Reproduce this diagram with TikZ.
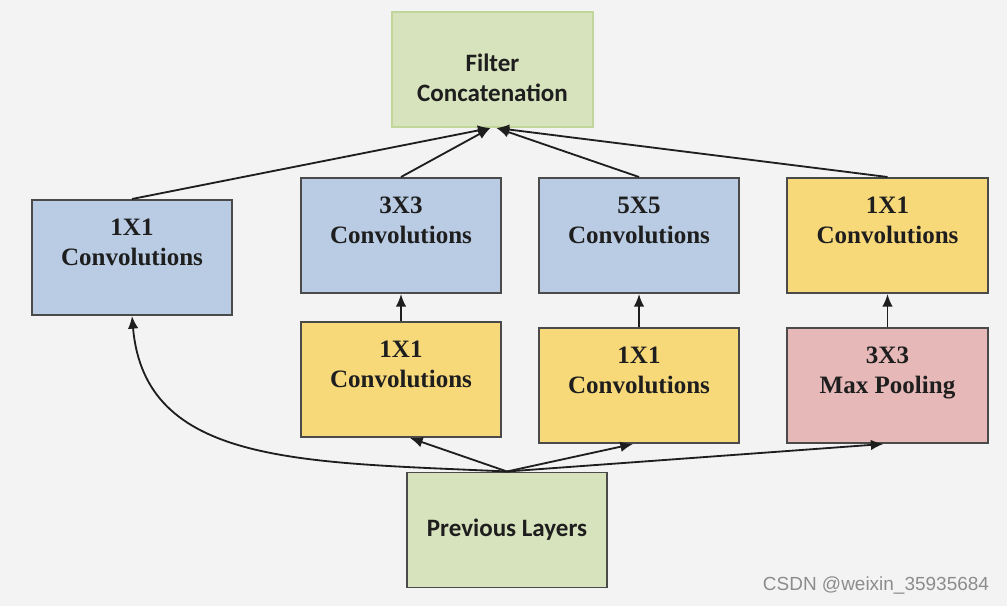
\documentclass[tikz,border=0pt]{standalone}
\usepackage{fontspec}
\setmainfont{Liberation Serif}
\newfontfamily\labelsans{Carlito}
\newfontfamily\creditsans{Liberation Sans}
\usetikzlibrary{arrows.meta,calc}
\definecolor{IncPaper}{HTML}{F3F3F3}
\definecolor{IncInk}{HTML}{1E1E1E}
\definecolor{IncEdge}{HTML}{4A4A4A}
\definecolor{IncBlue}{HTML}{B9CCE4}
\definecolor{IncYellow}{HTML}{F8D97A}
\definecolor{IncRose}{HTML}{E6B9B8}
\definecolor{IncGreen}{HTML}{D7E3BD}
\definecolor{IncGreenEdge}{HTML}{C2D69B}
\definecolor{IncMuted}{HTML}{8C8C8C}
\tikzset{
  flowarrow/.style={-{Latex[length=9pt,width=7.5pt]},line width=1.3pt,draw=IncInk},
  block/.style={draw=IncEdge,line width=1.4pt,align=center,minimum width=5cm,minimum height=2.875cm,inner sep=0pt,text=IncInk,font=\fontsize{17.8}{21.3}\selectfont\bfseries},
  convblue/.style={block,fill=IncBlue},
  convyellow/.style={block,fill=IncYellow},
  poolbox/.style={block,fill=IncRose},
  layerbox/.style={block,fill=IncGreen,font=\labelsans\fontsize{17.8}{21.3}\selectfont\bfseries},
  credit/.style={font=\creditsans\fontsize{13.5}{16}\selectfont,text=IncMuted}
}

\begin{document}
\begin{tikzpicture}[x=0.025cm,y=0.025cm]
  \fill[IncPaper] (0,0) rectangle (1007,606);

  % output and input
  \node[layerbox,draw=IncGreenEdge] (concat) at (492.5,536.5) {\rule{0pt}{24pt}Filter\\Concatenation};
  \node[layerbox] (prev) at (507,76) {Previous Layers};

  % upper row
  \node[convblue] (conv1) at (132,348.5) {1X1\\Convolutions\\\mbox{}};
  \node[convblue] (conv3) at (401,370.5) {3X3\\Convolutions\\\mbox{}};
  \node[convblue] (conv5) at (639,370.5) {5X5\\Convolutions\\\mbox{}};
  \node[convyellow] (convpool) at (887.5,370.5) {1X1\\Convolutions\\\mbox{}};

  % lower row
  \node[convyellow] (red3) at (401,226.5) {1X1\\Convolutions\\\mbox{}};
  \node[convyellow] (red5) at (639,220.5) {1X1\\Convolutions\\\mbox{}};
  \node[poolbox] (pool) at (887.5,220.5) {3X3\\Max Pooling\\\mbox{}};

  \coordinate (concatL) at ($(concat.south)+(-2,0)$);
  \coordinate (concatR) at ($(concat.south)+(4,0)$);

  \draw[flowarrow] (conv1.north) -- (concatL);
  \draw[flowarrow] (conv3.north) -- (concatL);
  \draw[flowarrow] (conv5.north) -- (concatR);
  \draw[flowarrow] (convpool.north) -- (concatR);

  \draw[flowarrow] (red3) -- (conv3);
  \draw[flowarrow] (red5) -- (conv5);
  \draw[flowarrow] (pool) -- (convpool);

  \draw[flowarrow] (prev.north) .. controls (300,144) and (145,141) .. (conv1.south);
  \draw[flowarrow] (prev.north) -- ($(red3.south)+(9,0)$);
  \draw[flowarrow] (prev.north) -- ($(red5.south)+(-6,0)$);
  \draw[flowarrow] (prev.north) -- ($(pool.south)+(-4,0)$);

  \node[credit] (credit) at (876,20) {CSDN @weixin\_35935684};
\end{tikzpicture}
\end{document}
